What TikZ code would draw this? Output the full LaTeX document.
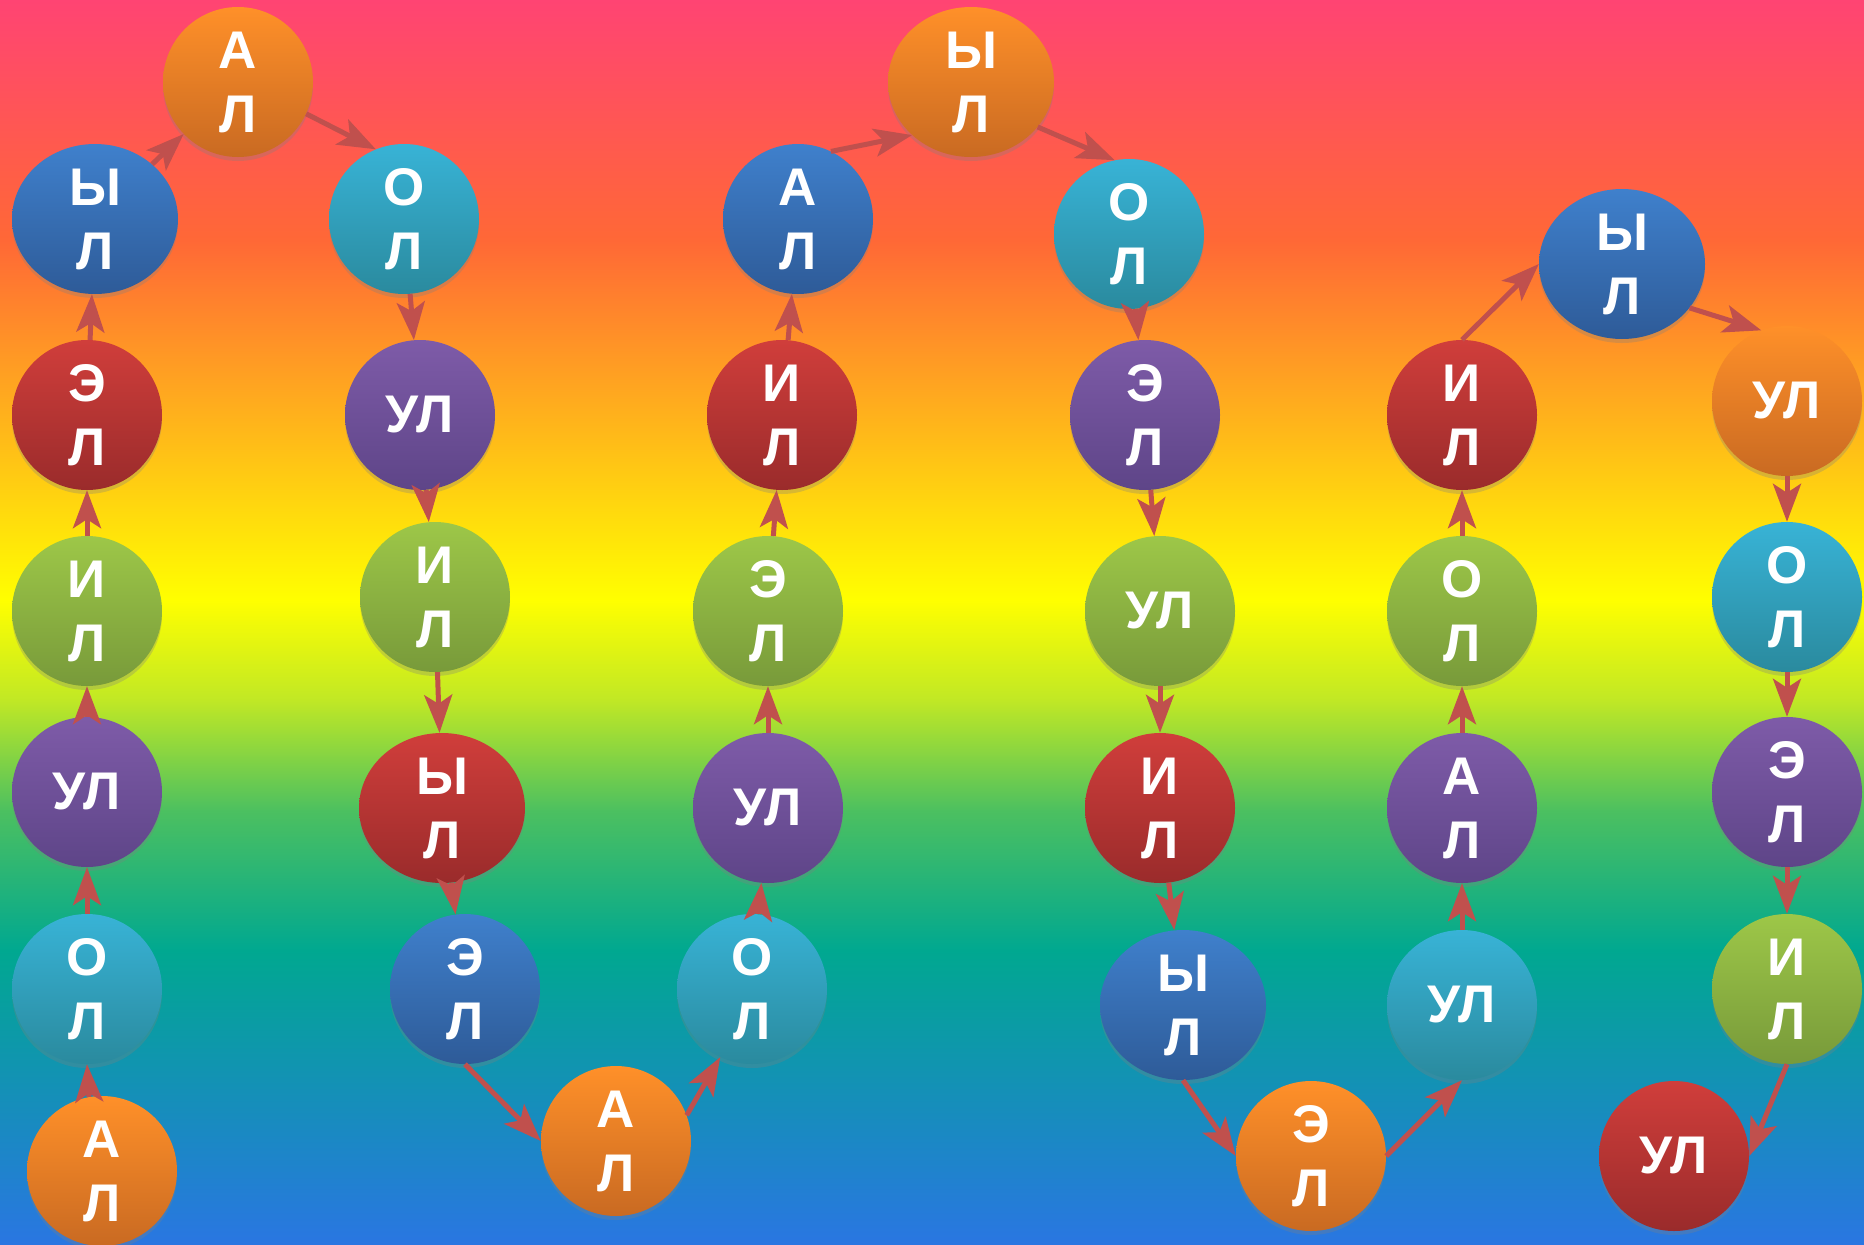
\documentclass[tikz,border=0pt]{standalone}
\usepackage{fontspec}
\newfontfamily\syllfont{Liberation Sans}
\usetikzlibrary{shapes.geometric,shadows,arrows.meta}

% rainbow background
\definecolor{bgpink}{HTML}{FF4473}
\definecolor{bgred}{HTML}{FF6836}
\definecolor{bgyellow}{HTML}{FFFF00}
\definecolor{bglime}{HTML}{C0E825}
\definecolor{bggreen}{HTML}{4CC060}
\definecolor{bgteal}{HTML}{00A890}
\definecolor{bgblue}{HTML}{2A76E2}
% balls
\definecolor{orangetop}{HTML}{FF9029}
\definecolor{orangebot}{HTML}{C96A22}
\definecolor{bluetop}{HTML}{3F80CC}
\definecolor{bluebot}{HTML}{2E5B98}
\definecolor{cyantop}{HTML}{38B3D6}
\definecolor{cyanbot}{HTML}{2A8A9E}
\definecolor{redtop}{HTML}{D03E3B}
\definecolor{redbot}{HTML}{9A2B2B}
\definecolor{purpletop}{HTML}{7E5BA8}
\definecolor{purplebot}{HTML}{5E4588}
\definecolor{greentop}{HTML}{9DC748}
\definecolor{greenbot}{HTML}{789A3A}
\definecolor{linkred}{HTML}{C0504D}

\tikzset{
  ball/.style={circle, minimum size=150pt, inner sep=0pt, align=center,
    text=white, font=\syllfont\bfseries\fontsize{53}{64}\selectfont,
    drop shadow={shadow xshift=0pt, shadow yshift=-4pt, opacity=0.3}},
  oval/.style={ball, ellipse, minimum width=166pt, minimum height=150pt},
  orangeball/.style={top color=orangetop, bottom color=orangebot},
  blueball/.style={top color=bluetop, bottom color=bluebot},
  cyanball/.style={top color=cyantop, bottom color=cyanbot},
  redball/.style={top color=redtop, bottom color=redbot},
  purpleball/.style={top color=purpletop, bottom color=purplebot},
  greenball/.style={top color=greentop, bottom color=greenbot},
  link/.style={draw=linkred, line width=5pt,
    -{Stealth[length=38pt, width=28pt, inset=9pt]}}
}

\begin{document}
\begin{tikzpicture}[x=1pt, y=-1pt]
  \useasboundingbox (0,0) rectangle (1864,1245);

  % background bands
  \shade[top color=bgpink, bottom color=bgred] (0,0) rectangle (1864,241);
  \shade[top color=bgred, bottom color=bgyellow] (0,240) rectangle (1864,601);
  \shade[top color=bgyellow, bottom color=bglime] (0,600) rectangle (1864,701);
  \shade[top color=bglime, bottom color=bggreen] (0,700) rectangle (1864,811);
  \shade[top color=bggreen, bottom color=bgteal] (0,810) rectangle (1864,951);
  \shade[top color=bgteal, bottom color=bgblue] (0,950) rectangle (1864,1245);

  % first column, going up
  \node[ball, orangeball] (s1) at (102,1171) {А\\Л};
  \node[ball, cyanball] (s2) at (87,989) {О\\Л};
  \node[ball, purpleball] (s3) at (87,792) {УЛ};
  \node[ball, greenball] (s4) at (87,611) {И\\Л};
  \node[ball, redball] (s5) at (87,415) {Э\\Л};
  \node[oval, blueball] (s6) at (95,219) {Ы\\Л};
  \node[ball, orangeball] (s7) at (238,82) {А\\Л};

  % second column, going down
  \node[ball, cyanball] (s8) at (404,219) {О\\Л};
  \node[ball, purpleball] (s9) at (420,415) {УЛ};
  \node[ball, greenball] (s10) at (435,597) {И\\Л};
  \node[oval, redball] (s11) at (442,808) {Ы\\Л};
  \node[ball, blueball] (s12) at (465,989) {Э\\Л};
  \node[ball, orangeball] (s13) at (616,1141) {А\\Л};

  % third column, going up
  \node[ball, cyanball] (s14) at (752,989) {О\\Л};
  \node[ball, purpleball] (s15) at (768,808) {УЛ};
  \node[ball, greenball] (s16) at (768,611) {Э\\Л};
  \node[ball, redball] (s17) at (782,415) {И\\Л};
  \node[ball, blueball] (s18) at (798,219) {А\\Л};
  \node[oval, orangeball] (s19) at (971,82) {Ы\\Л};

  % fourth column, going down
  \node[ball, cyanball] (s20) at (1129,234) {О\\Л};
  \node[ball, purpleball] (s21) at (1145,415) {Э\\Л};
  \node[ball, greenball] (s22) at (1160,611) {УЛ};
  \node[ball, redball] (s23) at (1160,808) {И\\Л};
  \node[oval, blueball] (s24) at (1183,1005) {Ы\\Л};
  \node[ball, orangeball] (s25) at (1311,1156) {Э\\Л};

  % fifth column, going up
  \node[ball, cyanball] (s26) at (1462,1005) {УЛ};
  \node[ball, purpleball] (s27) at (1462,808) {А\\Л};
  \node[ball, greenball] (s28) at (1462,611) {О\\Л};
  \node[ball, redball] (s29) at (1462,415) {И\\Л};
  \node[oval, blueball] (s30) at (1622,264) {Ы\\Л};

  % last column, going down
  \node[ball, orangeball] (s31) at (1787,401) {УЛ};
  \node[ball, cyanball] (s32) at (1787,597) {О\\Л};
  \node[ball, purpleball] (s33) at (1787,792) {Э\\Л};
  \node[ball, greenball] (s34) at (1787,989) {И\\Л};
  \node[ball, redball] (s35) at (1674,1156) {УЛ};

  % arrows
  \draw[link] (s1.100) -- (s2.south);
  \draw[link] (s2) -- (s3);
  \draw[link] (s3) -- (s4);
  \draw[link] (s4) -- (s5);
  \draw[link] (s5) -- (s6);
  \draw[link] (s6) -- (s7);
  \draw[link] (s7.-25) -- (s8.112);
  \draw[link] (s8) -- (s9);
  \draw[link] (s9) -- (s10);
  \draw[link] (s10) -- (s11);
  \draw[link] (s11) -- (s12);
  \draw[link] (s12.south) -- (s13.west);
  \draw[link] (s13.20) -- (s14.245);
  \draw[link] (s14) -- (s15);
  \draw[link] (s15) -- (s16);
  \draw[link] (s16) -- (s17);
  \draw[link] (s17) -- (s18);
  \draw[link] (s18.64) -- (s19.222);
  \draw[link] (s19.-34) -- (s20.101);
  \draw[link] (s20) -- (s21);
  \draw[link] (s21) -- (s22);
  \draw[link] (s22) -- (s23);
  \draw[link] (s23) -- (s24);
  \draw[link] (s24.south) -- (s25.west);
  \draw[link] (s25.east) -- (s26.south);
  \draw[link] (s26) -- (s27);
  \draw[link] (s27) -- (s28);
  \draw[link] (s28) -- (s29);
  \draw[link] (s29.north) -- (s30.west);
  \draw[link] (s30.-33) -- (s31.110);
  \draw[link] (s31) -- (s32);
  \draw[link] (s32) -- (s33);
  \draw[link] (s33) -- (s34);
  \draw[link] (s34.south) -- (s35.east);
\end{tikzpicture}
\end{document}
